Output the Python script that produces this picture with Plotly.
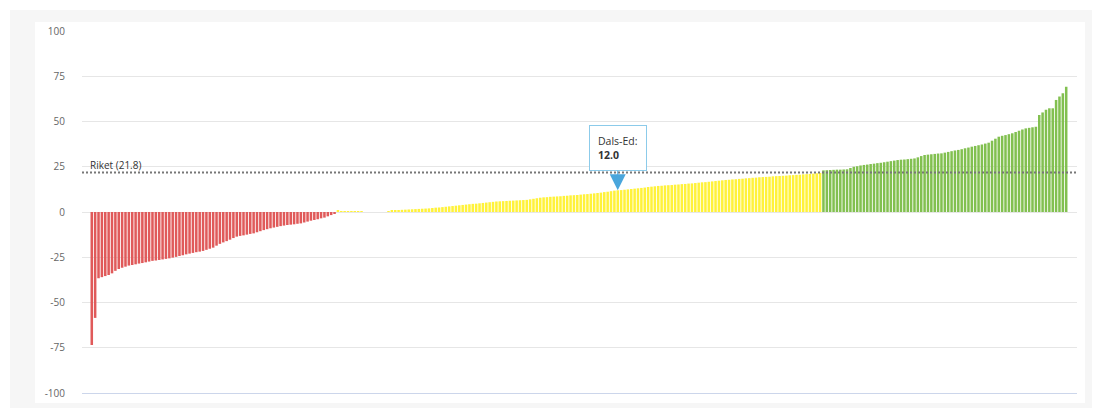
import plotly.graph_objects as go

# ---- data (sorted values per municipality) ----
red_values = [
    -73.5, -58.5, -36.6, -36.0, -35.4, -34.8, -33.9, -32.5, -31.5, -30.8,
    -30.2, -29.6, -29.3, -28.9, -28.5, -28.2, -27.8, -27.4, -27.0, -26.8,
    -26.5, -26.2, -25.9, -25.6, -25.2, -24.8, -24.3, -23.9, -23.4, -23.0,
    -22.6, -22.2, -21.9, -21.5, -20.9, -20.3, -19.7, -18.6, -17.6, -16.8,
    -16.1, -15.3, -14.4, -13.6, -13.2, -12.9, -12.5, -12.1, -11.8, -11.2,
    -10.6, -10.0, -9.5, -9.0, -8.6, -8.2, -7.8, -7.5, -7.2, -7.0,
    -6.8, -6.5, -6.3, -5.8, -5.3, -4.8, -4.4, -4.0, -3.5, -3.1,
    -2.4, -1.7, -0.9,
]
yellow_values = [
    0.6, 0.5, 0.5, 0.4, 0.4, 0.3, 0.3, 0.2,
    0.0, 0.0, 0.0, 0.0, 0.0, 0.0, 0.0, 0.5,
    0.7, 0.9, 1.1, 1.2, 1.3, 1.4, 1.5, 1.6, 1.7, 1.8,
    1.9, 2.0, 2.2, 2.4, 2.5, 2.7, 2.9, 3.1, 3.3, 3.5,
    3.7, 3.9, 4.1, 4.3, 4.5, 4.6, 4.8, 5.0, 5.2, 5.4,
    5.6, 5.8, 5.9, 6.0, 6.1, 6.2, 6.3, 6.4, 6.5, 6.6,
    6.7, 7.0, 7.3, 7.6, 7.9, 8.1, 8.2, 8.4, 8.5, 8.6,
    8.7, 8.9, 9.0, 9.2, 9.3, 9.4, 9.6, 9.8, 9.9, 10.1,
    10.3, 10.5, 10.7, 11.0, 11.2, 11.5, 11.8, 12.0, 12.1, 12.3,
    12.5, 12.7, 12.9, 13.1, 13.3, 13.5, 13.8, 14.0, 14.2, 14.4,
    14.5, 14.7, 14.8, 14.9, 15.1, 15.2, 15.4, 15.5, 15.7, 15.8,
    16.0, 16.2, 16.4, 16.5, 16.7, 16.9, 17.1, 17.3, 17.5, 17.7,
    17.8, 18.0, 18.1, 18.3, 18.4, 18.6, 18.7, 18.9, 19.0, 19.2,
    19.3, 19.4, 19.5, 19.7, 19.8, 19.9, 20.0, 20.1, 20.3, 20.4,
    20.5, 20.6, 20.8, 20.9, 21.0, 21.2, 21.4, 21.6,
]
green_values = [
    23.0, 23.1, 23.2, 23.3, 23.4, 23.4, 23.5, 23.6,
    24.3, 25.0, 25.3, 25.7, 26.0, 26.2, 26.5, 26.7, 27.0, 27.2,
    27.5, 27.8, 28.1, 28.4, 28.7, 28.9, 29.0, 29.2, 29.4, 29.6,
    30.2, 30.9, 31.5, 31.7, 31.9, 32.1, 32.3, 32.4, 32.8, 33.2,
    33.6, 34.0, 34.3, 34.7, 35.2, 35.6, 36.1, 36.5, 36.9, 37.3,
    37.8, 38.3, 39.4, 40.5, 41.6, 42.1, 42.5, 43.0, 43.5, 44.2,
    44.9, 45.6, 46.2, 46.5, 46.8, 47.1, 53.6, 55.0, 56.5, 57.3,
    57.3, 61.9, 63.8, 65.6, 69.2,
]
riket_value = 21.8
riket_label = "Riket"
highlight_name = "Dals-Ed"
highlight_position = 156          # rank position of Dals-Ed in the sorted list
y_ticks = [-100, -75, -50, -25, 0, 25, 50, 75, 100]
y_tick_labels = [str(v) for v in y_ticks]

values = red_values + yellow_values + green_values
positions = list(range(len(values)))

RED, YELLOW, GREEN = "#e05a5a", "#fff23a", "#82c050"
colors = [RED if v < 0 else (YELLOW if v < riket_value else GREEN) for v in values]

# plot area in pixels: left 82, right 1077, top 31, bottom 393
W, H = 1096, 408
L, R, T, B = 82, 19, 31, 15
pw, ph = W - L - R, H - T - B


def px_x(p):
    return (p - L) / pw


def px_y(p):
    return (H - B - p) / ph


fig = go.Figure()
fig.add_trace(go.Bar(
    x=positions, y=values,
    marker=dict(color=colors, line=dict(width=0)),
    hoverinfo="y", showlegend=False,
))

# background frame + white card
fig.add_shape(type="rect", xref="paper", yref="paper", layer="below",
              x0=px_x(10), x1=px_x(1092), y0=px_y(410), y1=px_y(10),
              fillcolor="#f6f6f6", line=dict(width=0))
fig.add_shape(type="rect", xref="paper", yref="paper", layer="below",
              x0=px_x(35), x1=px_x(1085), y0=px_y(403), y1=px_y(22),
              fillcolor="#ffffff", line=dict(width=0))

# Riket reference line
fig.add_shape(type="line", xref="paper", yref="y", x0=0, x1=1,
              y0=riket_value, y1=riket_value,
              line=dict(color="#777777", width=2, dash="2px,2px"))
fig.add_annotation(xref="paper", yref="y", x=0, y=riket_value,
                   xanchor="left", yanchor="bottom", xshift=6, yshift=-1,
                   text=f"{riket_label} ({riket_value:.1f})", showarrow=False,
                   font=dict(size=10, color="#333333", family="Open Sans"))

# Dals-Ed callout
hv = values[highlight_position]
fig.add_annotation(x=highlight_position, y=hv, xref="x", yref="y",
                   text=f"{highlight_name}:<br><b>{hv:.1f}</b>", align="left",
                   showarrow=True, ax=0, ay=-42, arrowhead=2, arrowsize=3.2,
                   arrowwidth=1, arrowcolor="#4aa6dc", standoff=0,
                   bgcolor="#ffffff", bordercolor="#8ccbea", borderwidth=1,
                   borderpad=8,
                   font=dict(size=10.5, color="#333333", family="Open Sans"))

fig.update_layout(
    template="none",
    width=W, height=H,
    margin=dict(l=L, r=R, t=T, b=B, pad=0, autoexpand=False),
    paper_bgcolor="#ffffff", plot_bgcolor="rgba(0,0,0,0)",
    bargap=0.25,
    font=dict(family="Open Sans", size=10, color="#666666"),
    xaxis=dict(range=[-2.9, len(values) - 1 + 3.2], showticklabels=False,
               showgrid=False, zeroline=False, ticks="", automargin=False,
               showline=True, linecolor="#ccd6eb", linewidth=1),
    yaxis=dict(range=[-100, 100], tickvals=y_ticks, ticktext=y_tick_labels,
               showgrid=True, automargin=False,
               gridcolor="#e6e6e6", gridwidth=1, zeroline=False,
               ticks="", ticklabelstandoff=16,
               tickfont=dict(size=10, color="#666666")),
)

fig.write_html("out.html")
